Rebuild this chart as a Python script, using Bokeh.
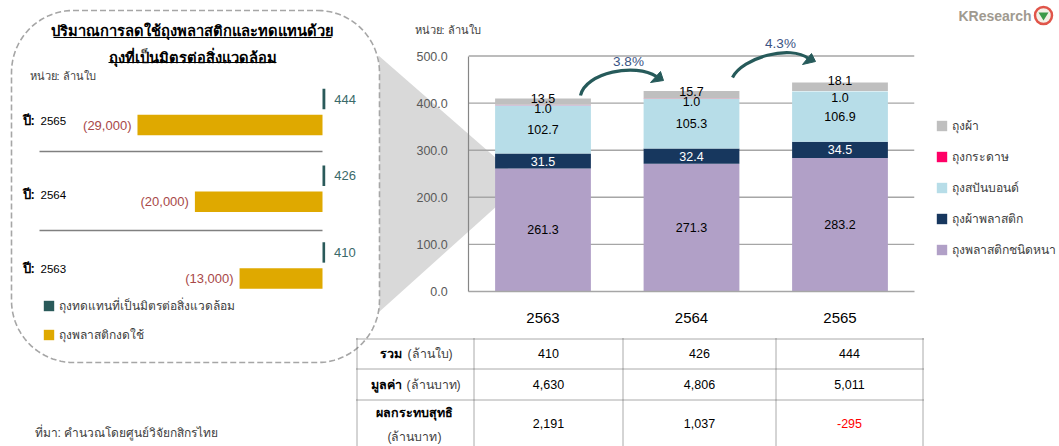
import numpy as np
from bokeh.plotting import figure
from bokeh.embed import file_html
from bokeh.resources import INLINE
from bokeh.core.properties import value
from bokeh.models import (Range1d, LinearAxis, FixedTicker, Legend, LegendItem,
                          ColumnDataSource, CustomJSTickFormatter)

# ---------- data ----------
YEARS = [2563, 2564, 2565]
PLASTIC_THICK = [261.3, 271.3, 283.2]
PLASTIC_CLOTH = [31.5, 32.4, 34.5]
SPUNBOND = [102.7, 105.3, 106.9]
PAPER = [1.0, 1.0, 1.0]
CLOTH = [13.5, 15.7, 18.1]
SERIES_NAMES = ["ถุงพลาสติกชนิดหนา", "ถุงผ้าพลาสติก", "ถุงสปันบอนด์", "ถุงกระดาษ", "ถุงผ้า"]
Y_TICKS = [0, 100, 200, 300, 400, 500]
GROWTH = ["3.8%", "4.3%"]

PANEL_YEARS = [2563, 2564, 2565]
SUBSTITUTE = [410, 426, 444]
REDUCED = [13000, 20000, 29000]
REDUCED_LABELS = ["(13,000)", "(20,000)", "(29,000)"]
PANEL_NAMES = ["ถุงทดแทนที่เป็นมิตรต่อสิ่งแวดล้อม", "ถุงพลาสติกงดใช้"]

TABLE_TOTAL = ["410", "426", "444"]
TABLE_VALUE = ["4,630", "4,806", "5,011"]
TABLE_NET = ["2,191", "1,037", "-295"]

# ---------- page ----------
W, H = 1059, 446
FONT = "Liberation Sans"
p = figure(width=W, height=H, output_backend="svg", toolbar_location=None,
           x_range=Range1d(0, W), y_range=Range1d(H, 0),
           min_border=0, outline_line_color=None, background_fill_color="white")
p.xaxis.visible = False
p.yaxis.visible = False
p.xgrid.visible = False
p.ygrid.visible = False


def txt(x, y, s, size=12, color="#000000", align="left", bold=False, **kw):
    p.text([x], [y], text=[s], text_font=value(FONT), text_font_size=f"{size}px",
           text_color=color, text_align=align, text_baseline="middle",
           text_font_style="bold" if bold else "normal", **kw)


# scales: main chart
px_per_val = 0.471
y0_px = 291
px_per_year = 148.5
x2563_px = 542.5
p.extra_y_ranges["bags"] = Range1d((y0_px - H) / px_per_val, y0_px / px_per_val)
p.extra_x_ranges["years"] = Range1d(2563 - x2563_px / px_per_year,
                                    2563 + (W - x2563_px) / px_per_year)
# scales: left panel
px_per_cut = 0.00638
x0_cut = 322
p.extra_x_ranges["cut"] = Range1d(-x0_cut / px_per_cut, (W - x0_cut) / px_per_cut)
px_per_py = 76.7
y2565_px = 112
p.extra_y_ranges["pyear"] = Range1d(2565 - (H - y2565_px) / px_per_py,
                                    2565 + y2565_px / px_per_py)

# gray zoom wedge
p.patch([378, 523, 378], [55, 181.5, 312], fill_color="#d9d9d9", line_color=None)

# grid lines
p.segment(x0=[2562.5] * 5, x1=[2565.5] * 5, y0=Y_TICKS[1:], y1=Y_TICKS[1:],
          x_range_name="years", y_range_name="bags", line_color="#a6a6a6", line_width=1.4)

# rounded dashed panel
L, R, T, B, r = 11, 379, 10, 362, 62
a = np.linspace(0, np.pi / 2, 24)
px = np.concatenate([R - r + r * np.sin(a), R - r + r * np.cos(a), L + r - r * np.sin(a), L + r - r * np.cos(a)])
py = np.concatenate([T + r - r * np.cos(a), B - r + r * np.sin(a), B - r + r * np.cos(a), T + r - r * np.sin(a)])
p.patch(px, py, fill_color="white", line_color="#a6a6a6", line_width=1.6, line_dash="6 3")

# stacked bars
src = ColumnDataSource(dict(year=YEARS, thick=PLASTIC_THICK, cl=PLASTIC_CLOTH, spun=SPUNBOND,
                            paper=PAPER, cloth=CLOTH, pink_alpha=[0.6, 1.0, 0.0]))
stack_keys = ["thick", "cl", "spun", "paper", "cloth"]
colors = ["#b1a0c7", "#17375e", "#b7dde8", "#ff0066", "#bfbfbf"]
rs = p.vbar_stack(stack_keys, x="year", width=0.645, color=colors, source=src,
                  x_range_name="years", y_range_name="bags", line_color=None)
rs[3].glyph.fill_alpha = {"field": "pink_alpha"}

# bar value labels
offs = {"thick": [0, 0, 0], "cl": [0, 0, 0], "spun": [0, 0, 0], "paper": [4, 3, 6], "cloth": [-3, -3, -6]}
base = np.zeros(3)
for key, arr, col in zip(stack_keys, [PLASTIC_THICK, PLASTIC_CLOTH, SPUNBOND, PAPER, CLOTH],
                         ["#000000", "#ffffff", "#000000", "#000000", "#000000"]):
    arr = np.array(arr)
    mid = base + arr / 2
    base = base + arr
    p.text(YEARS, mid, text=[f"{v:.1f}" for v in arr], x_range_name="years", y_range_name="bags",
           text_font=value(FONT), text_font_size="12.5px", text_color=col, text_align="center",
           text_baseline="middle", y_offset=offs[key])

# axes of the main chart
yax = LinearAxis(x_range_name="years", y_range_name="bags", fixed_location=2562.5,
                 ticker=FixedTicker(ticks=Y_TICKS), bounds=(0, 500))
yax.formatter = CustomJSTickFormatter(code="return tick.toFixed(1)")
yax.major_tick_line_color = None
yax.minor_tick_line_color = None
yax.axis_line_color = "#868686"
yax.axis_line_width = 1.2
yax.major_label_text_font = FONT
yax.major_label_text_font_size = "12.5px"
yax.major_label_text_color = "#595959"
yax.major_label_standoff = 15
p.add_layout(yax, "left")

xax = LinearAxis(x_range_name="years", y_range_name="bags", fixed_location=0,
                 ticker=FixedTicker(ticks=YEARS), bounds=(2562.5, 2565.5))
xax.formatter = CustomJSTickFormatter(code="return tick.toFixed(0)")
xax.major_tick_line_color = None
xax.minor_tick_line_color = None
xax.axis_line_color = "#a6a6a6"
xax.axis_line_width = 1.6
xax.major_label_text_font = FONT
xax.major_label_text_font_size = "15px"
xax.major_label_text_color = "#000000"
xax.major_label_standoff = 15
p.add_layout(xax, "below")

# growth arrows
AR = "#265a5a"
for (x0, y0, cx0, cy0, cx1, cy1, x1, y1, hx, hy), lab, lx, ly in zip(
        [(580, 95, 585, 72, 635, 62, 656, 76, [650, 663, 660], [82, 80, 71]),
         (732, 77, 742, 57, 790, 44, 808, 58, [802, 815, 811], [64, 61, 53])],
        GROWTH, [628, 780], [61, 43]):
    p.bezier(x0=[x0], y0=[y0], cx0=[cx0], cy0=[cy0], cx1=[cx1], cy1=[cy1], x1=[x1], y1=[y1],
             line_color=AR, line_width=3.2)
    p.patch(hx, hy, fill_color=AR, line_color=AR)
    txt(lx, ly, lab, 13.5, "#3b5484", "center")

txt(414, 29, "หน่วย: ล้านใบ", 11, "#404040")

# right legend
order = [4, 3, 2, 1, 0]
leg = Legend(items=[LegendItem(label=value(SERIES_NAMES[i]), renderers=[rs[i]], index=1) for i in order],
             location=(935, 187), orientation="vertical", background_fill_alpha=0, border_line_color=None,
             glyph_width=13, glyph_height=13, label_height=13, spacing=12, margin=0, padding=0,
             label_text_font=FONT, label_text_font_size="12.2px", label_text_color="#404040",
             label_standoff=4)
p.add_layout(leg, "center")

# left panel
txt(192, 30, "ปริมาณการลดใช้ถุงพลาสติกและทดแทนด้วย", 14.7, "#000000", "center", True)
txt(192, 57, "ถุงที่เป็นมิตรต่อสิ่งแวดล้อม", 14.7, "#000000", "center", True)
p.segment([53, 108], [37, 62], [331, 276], [37, 62], line_color="#000000", line_width=1)
txt(29, 75, "หน่วย: ล้านใบ", 11, "#404040")

gy = np.array(PANEL_YEARS) + 13.5 / px_per_py
ry = np.array(PANEL_YEARS) - 12.5 / px_per_py
h1 = p.hbar(y=gy, left=0, right=SUBSTITUTE, height=20.5 / px_per_py, x_range_name="cut", y_range_name="pyear",
            fill_color="#2a5a5a", line_color=None)
h2 = p.hbar(y=ry, left=[-v for v in REDUCED], right=0, height=20.5 / px_per_py, x_range_name="cut",
            y_range_name="pyear", fill_color="#dfa900", line_color=None)
p.text(SUBSTITUTE, gy, text=[str(v) for v in SUBSTITUTE], x_range_name="cut", y_range_name="pyear",
       text_font=value(FONT), text_font_size="13px", text_color="#3a6a6a", text_baseline="middle", x_offset=9)
p.text([-v for v in REDUCED], ry, text=REDUCED_LABELS, x_range_name="cut", y_range_name="pyear",
       text_font=value(FONT), text_font_size="13px", text_color="#a84848", text_baseline="middle",
       text_align="right", x_offset=-6)
p.segment([39, 39], [151, 230], [322, 322], [151, 230], line_color="#808080", line_width=1.3)
for yr, yy in zip(PANEL_YEARS, [268, 194, 120]):
    txt(22, yy, "ปี:", 13, "#000000", bold=True)
    txt(40, yy, str(yr), 11.5, "#000000")

leg2 = Legend(items=[LegendItem(label=value(PANEL_NAMES[0]), renderers=[h1]),
                     LegendItem(label=value(PANEL_NAMES[1]), renderers=[h2])],
              location=(42, 102), orientation="vertical", background_fill_alpha=0, border_line_color=None,
              glyph_width=13, glyph_height=13, label_height=13, spacing=10, margin=0, padding=0,
              label_text_font=FONT, label_text_font_size="12px", label_text_color="#404040",
              label_standoff=4)
p.add_layout(leg2, "center")

txt(34, 432, "ที่มา: คำนวณโดยศูนย์วิจัยกสิกรไทย", 12, "#404040")

# table
hy_ = [338.5, 368.5, 399.5]
vx = [356.5, 473.5, 622.5, 775.5, 922.5]
TBL = "#555555"
p.segment([356] * 3, hy_, [923] * 3, hy_, line_color=TBL, line_width=1, line_dash="1 1")
p.segment(vx, [338] * 5, vx, [446] * 5, line_color=TBL, line_width=1, line_dash="1 1")
cx = [548, 699, 849]
for vals, yy in zip([TABLE_TOTAL, TABLE_VALUE, TABLE_NET], [353, 384, 423]):
    for c, s in zip(cx, vals):
        txt(c, yy, s, 12.5, "#ff0000" if s.startswith("-") else "#000000", "center")
txt(379, 353, "รวม", 12.5, bold=True)
txt(407, 353, "(ล้านใบ)", 12.3, "#404040")
txt(370, 384, "มูลค่า", 12.5, bold=True)
txt(406, 384, "(ล้านบาท)", 12.3, "#404040")
txt(414, 412, "ผลกระทบสุทธิ", 12.5, "#000000", "center", True)
txt(414, 436, "(ล้านบาท)", 12.3, "#404040", "center")

# logo
txt(958, 15, "KResearch", 14, "#a09a90", bold=True)
p.circle([1043], [15], radius=8.5, fill_color="#f4f0e8", line_color="#e0554a", line_width=2.5)
p.patch([1038, 1048, 1043], [12, 12, 20], fill_color="#3c9a4a", line_color=None)

open("out.html", "w").write(file_html(p, INLINE))
